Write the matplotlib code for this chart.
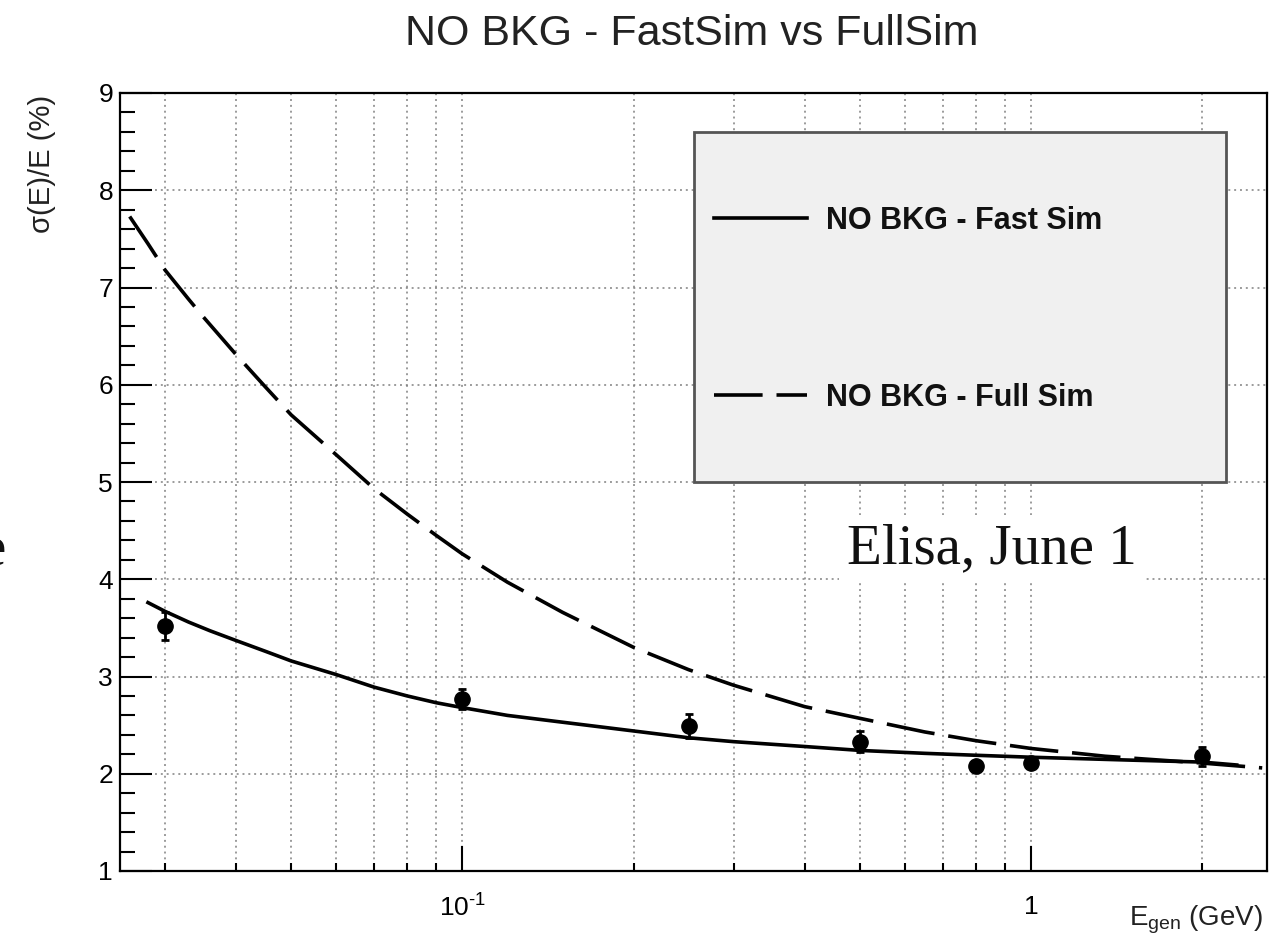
import numpy as np
import matplotlib
matplotlib.use("Agg")
import matplotlib.pyplot as plt
from matplotlib.patches import Rectangle
from matplotlib.lines import Line2D
from matplotlib.ticker import FixedLocator, LogLocator, MultipleLocator, NullFormatter

plt.rcParams['font.family'] = ['Liberation Sans', 'DejaVu Sans']
plt.rcParams['mathtext.fontset'] = 'custom'
plt.rcParams['mathtext.rm'] = 'Liberation Sans'
plt.rcParams['mathtext.it'] = 'Liberation Sans:italic'
plt.rcParams['lines.scale_dashes'] = False

# resolution curves (E in GeV, sigma(E)/E in %)
fast_e = [0.028, 0.03, 0.033, 0.036, 0.04, 0.045, 0.05, 0.06, 0.07, 0.08, 0.09, 0.1, 0.12,
          0.15, 0.2, 0.25, 0.3, 0.4, 0.5, 0.65, 0.8, 1.0, 1.5, 2.0, 2.3]
fast_res = [3.76, 3.67, 3.56, 3.47, 3.37, 3.26, 3.16, 3.02, 2.89, 2.80, 2.73, 2.68, 2.60,
            2.53, 2.44, 2.37, 2.33, 2.28, 2.24, 2.21, 2.19, 2.17, 2.14, 2.12, 2.09]

full_e = [0.026, 0.028, 0.03, 0.033, 0.035, 0.04, 0.045, 0.05, 0.06, 0.07, 0.08, 0.09, 0.1,
          0.12, 0.15, 0.2, 0.25, 0.3, 0.4, 0.5, 0.65, 0.8, 1.0, 1.35, 2.0, 2.55]
full_res = [7.73, 7.45, 7.18, 6.88, 6.70, 6.31, 5.98, 5.69, 5.28, 4.93, 4.67, 4.45, 4.26,
            3.97, 3.66, 3.30, 3.07, 2.91, 2.69, 2.57, 2.43, 2.34, 2.26, 2.18, 2.11, 2.06]

# points with errors
pts_e = [0.03, 0.1, 0.25, 0.5, 0.8, 1.0, 2.0]
pts_res = [3.52, 2.77, 2.49, 2.33, 2.08, 2.11, 2.18]
pts_err = [0.14, 0.10, 0.12, 0.11, 0.05, 0.05, 0.10]

legend_labels = ['NO BKG - Fast Sim', 'NO BKG - Full Sim']

W, H = 1282, 940
fig = plt.figure(figsize=(W / 100, H / 100), dpi=100)
ax = fig.add_axes([120 / W, 1 - 871 / H, 1147 / W, 778 / H])

ax.set_xscale('log')
ax.set_xlim(0.025, 2.6)
ax.set_ylim(1, 9)

ax.xaxis.set_major_locator(FixedLocator([0.1, 1]))
ax.set_xticklabels([r'$10^{\text{-}1}$', '1'])
ax.xaxis.set_minor_locator(LogLocator(base=10, subs=np.arange(2, 10)))
ax.xaxis.set_minor_formatter(NullFormatter())
ax.yaxis.set_major_locator(MultipleLocator(1))
ax.yaxis.set_minor_locator(MultipleLocator(0.2))

ax.tick_params(axis='y', which='major', direction='in', length=23, width=1.5, labelsize=19, pad=5)
ax.tick_params(axis='y', which='minor', direction='in', length=11, width=1.5)
ax.tick_params(axis='x', which='major', direction='in', length=18, width=1.5, labelsize=19, pad=17)
ax.tick_params(axis='x', which='minor', direction='in', length=6, width=1.5)
for s in ax.spines.values():
    s.set_linewidth(1.6)

grid_kw = dict(color='#808080', linewidth=1.1, linestyle=(0, (1.4, 2.8)))
ax.grid(True, axis='y', which='major', **grid_kw)
ax.grid(True, axis='x', which='both', **grid_kw)
ax.set_axisbelow(True)

ax.plot(fast_e, fast_res, color='black', lw=2.6, zorder=3)
ax.plot(full_e, full_res, color='black', lw=2.6, linestyle=(0, (35, 10)), zorder=3)
ax.errorbar(pts_e, pts_res, yerr=pts_err, fmt='o', color='black', ms=11,
            capsize=3, elinewidth=2, capthick=2, zorder=4)

# legend box drawn by hand to match the ROOT layout
ax.add_patch(Rectangle((0.5004, 0.5), 0.4639, 0.4499, transform=ax.transAxes,
                       facecolor='#f0f0f0', edgecolor='#555555', lw=2, zorder=5))
for ly, ls, lab in [(0.8393, '-', legend_labels[0]), (0.6118, (0, (35, 10)), legend_labels[1])]:
    ax.add_line(Line2D([0.5179, 0.5990], [ly, ly], transform=ax.transAxes,
                       color='black', lw=2.6, linestyle=ls, zorder=6))
    ax.text(0.6155, ly - 0.0141, lab, transform=ax.transAxes, fontsize=22,
            fontweight='bold', va='baseline', ha='left', color='#111111', zorder=6)

fig.text(692 / W, 1 - 45 / H, 'NO BKG - FastSim vs FullSim', ha='center', va='baseline',
         fontsize=31, color='#222222')
fig.text(42 / W, 1 - 95 / H, 'σ(E)/E (%)', rotation=90, ha='center', va='top',
         fontsize=21, color='#222222')
fig.text(1263 / W, 1 - 926 / H, r'E$_{\rm gen}$ (GeV)', ha='right', va='baseline',
         fontsize=20, color='#222222')

fig.text(847 / W, 1 - 563 / H, 'Elisa, June 1', ha='left', va='baseline',
         fontsize=41, family=['Liberation Serif', 'DejaVu Serif'], color='#111111',
         bbox=dict(boxstyle='square,pad=0.14', facecolor='white', edgecolor='none'), zorder=10)
fig.text(6 / W, 1 - 566 / H, 'e', ha='right', va='baseline', fontsize=41,
         family=['Liberation Serif', 'DejaVu Serif'], color='#111111')

fig.savefig('out.png', dpi=100)
